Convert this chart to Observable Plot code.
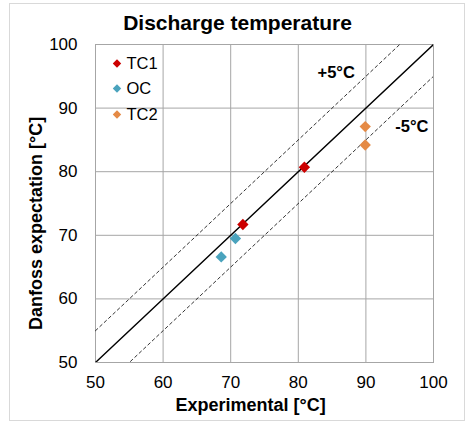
<!DOCTYPE html>
<html><head><meta charset="utf-8">
<script src="https://cdn.jsdelivr.net/npm/d3@7"></script>
<script src="https://cdn.jsdelivr.net/npm/@observablehq/plot@0.6"></script>
<style>
body{margin:0;background:#fff;}
#wrap{position:relative;width:468px;height:422px;}
#wrap svg{position:absolute;left:0;top:0;}
#border{position:absolute;left:9px;top:3px;width:454px;height:416px;border:1px solid #d9d9d9;pointer-events:none;}
</style></head><body>
<div id="wrap"><div id="border"></div></div>
<script>
const chartTitle = "Discharge temperature";
const xLabel = "Experimental [°C]";
const yLabel = "Danfoss expectation [°C]";
const seriesNames = ["TC1", "OC", "TC2"];
const seriesColors = ["#cc0000", "#4aa3bd", "#e58a45"];
const tc1Exp = [71.8, 80.9];
const tc1Pred = [71.7, 80.7];
const ocExp = [68.6, 70.7];
const ocPred = [66.6, 69.5];
const tc2Exp = [89.9, 89.9];
const tc2Pred = [87.1, 84.2];
const tickValues = [50, 60, 70, 80, 90, 100];
const bandOffsets = [0, 5, -5];
const annotations = [
  {label: "+5°C", x: 85.6, y: 95.6},
  {label: "-5°C", x: 96.8, y: 87.0}
];

const points = [];
[[tc1Exp, tc1Pred, "TC1"], [ocExp, ocPred, "OC"], [tc2Exp, tc2Pred, "TC2"]].forEach(([xs, ys, s]) => {
  xs.forEach((v, i) => points.push({series: s, x: v, y: ys[i]}));
});

const lo = tickValues[0], hi = tickValues[tickValues.length - 1];
const bandLines = [];
bandOffsets.forEach(o => {
  bandLines.push({o, x: lo, y: lo + o});
  bandLines.push({o, x: hi, y: hi + o});
});

const font = "'Liberation Sans', Arial, sans-serif";
const legendMarks = [];
const legendDy = [19, 44, 70];
seriesNames.forEach((name, i) => {
  legendMarks.push(Plot.dot([name], {frameAnchor: "top-left", dx: 21.5, dy: legendDy[i], symbol: "diamond2", r: 3.8, fill: seriesColors[i], stroke: null}));
  legendMarks.push(Plot.text([name], {frameAnchor: "top-left", dx: 31, dy: legendDy[i], textAnchor: "start", lineAnchor: "middle", fontSize: 16.5, letterSpacing: 0.3, fill: "#000"}));
});

const chart = Plot.plot({
  width: 468, height: 422,
  marginLeft: 95, marginRight: 35, marginTop: 44, marginBottom: 60,
  style: {fontFamily: font, fontSize: "17px", color: "#000", background: "transparent", overflow: "visible"},
  x: {domain: [lo, hi], label: null},
  y: {domain: [lo, hi], label: null},
  color: {domain: seriesNames, range: seriesColors},
  marks: [
    Plot.gridX(tickValues, {stroke: "#a6a6a6", strokeOpacity: 1}),
    Plot.gridY(tickValues, {stroke: "#a6a6a6", strokeOpacity: 1}),
    Plot.frame({stroke: "#a6a6a6"}),
    Plot.axisX(tickValues, {tickSize: 0, tickPadding: 13, fontSize: 17, letterSpacing: 0.6, label: null}),
    Plot.axisY(tickValues, {tickSize: 0, tickPadding: 18, fontSize: 17, letterSpacing: 0.6, label: null}),
    Plot.line(bandLines.filter(d => d.o === 0), {x: "x", y: "y", stroke: "#000", strokeWidth: 1.4, clip: true}),
    Plot.line(bandLines.filter(d => d.o !== 0), {x: "x", y: "y", z: "o", stroke: "#000", strokeWidth: 0.8, strokeDasharray: "3,3", clip: true}),
    Plot.dot(points, {x: "x", y: "y", fill: "series", symbol: "diamond2", r: 5.1, stroke: null}),
    Plot.text(annotations, {x: "x", y: "y", text: "label", fontSize: 16.5, fontWeight: "bold", letterSpacing: 0.6, fill: "#000"}),
    ...legendMarks,
    Plot.text([chartTitle], {frameAnchor: "top", lineAnchor: "middle", dx: -27, dy: -21, fontSize: 21, fontWeight: "bold", letterSpacing: 0.6, fill: "#000"}),
    Plot.text([xLabel], {frameAnchor: "bottom", lineAnchor: "middle", dx: -14, dy: 43, fontSize: 18, fontWeight: "bold", fill: "#000"}),
    Plot.text([yLabel], {frameAnchor: "left", textAnchor: "middle", lineAnchor: "middle", dx: -59, dy: 20, rotate: -90, fontSize: 18, fontWeight: "bold", fill: "#000"})
  ]
});
document.getElementById("wrap").prepend(chart);
</script>
</body></html>
